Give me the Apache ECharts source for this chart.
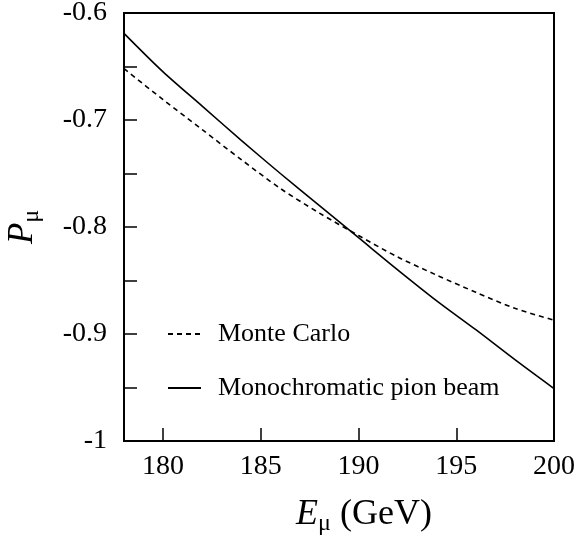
<!DOCTYPE html>
<html>
<head>
<meta charset="utf-8">
<script src="https://cdn.jsdelivr.net/npm/echarts@6/dist/echarts.min.js"></script>
<style>html,body{margin:0;padding:0;background:#fff}#c{width:576px;height:540px}</style>
</head>
<body>
<div id="c"></div>
<script>
var energies = [178, 180, 182, 184, 186, 188, 190, 192, 194, 196, 198, 200];
var monteCarlo = [-0.652, -0.681, -0.709, -0.737, -0.764, -0.787, -0.808, -0.828, -0.845, -0.861, -0.876, -0.887];
var monochromatic = [-0.619, -0.655, -0.687, -0.719, -0.750, -0.780, -0.810, -0.840, -0.869, -0.896, -0.924, -0.951];
var seriesNames = ['Monte Carlo', 'Monochromatic pion beam'];
var yTicks = [-1, -0.9, -0.8, -0.7, -0.6];

var font = '"Liberation Serif", "Times New Roman", serif';
function pairs(xs, ys) { return xs.map(function (x, i) { return [x, ys[i]]; }); }

var chart = echarts.init(document.getElementById('c'), null, {renderer: 'canvas'});
chart.setOption({
  animation: false,
  backgroundColor: '#fff',
  grid: {left: 124, right: 22, top: 13, bottom: 99, show: true, borderColor: '#000', borderWidth: 2,
         containLabel: false, outerBoundsMode: 'none'},
  legend: {
    orient: 'vertical', left: 162, top: 316, itemWidth: 33, itemHeight: 14, itemGap: 28,
    data: seriesNames,
    itemStyle: {opacity: 0},
    textStyle: {fontFamily: font, fontSize: 26, color: '#000', lineHeight: 26, padding: [0, 0, 0, 12]}
  },
  xAxis: {
    type: 'value', min: 178, max: 200, splitNumber: 5,
    name: '{e|E}{s|μ}{n|\u00a0(GeV)}', nameLocation: 'middle', nameGap: 53,
    nameTextStyle: {
      fontFamily: font, color: '#000', padding: [0, 0, 0, 50],
      rich: {
        e: {fontFamily: font, fontStyle: 'italic', fontSize: 36, color: '#000'},
        s: {fontFamily: font, fontSize: 24, color: '#000', padding: [18, 0, 0, 0]},
        n: {fontFamily: font, fontSize: 36, color: '#000'}
      }
    },
    axisLine: {show: true, lineStyle: {color: '#000', width: 2}},
    axisTick: {show: true, inside: true, length: 13, lineStyle: {color: '#000', width: 1.5}},
    axisLabel: {showMinLabel: false, fontFamily: font, fontSize: 28, color: '#000', margin: 12},
    splitLine: {show: false}
  },
  yAxis: {
    type: 'value', min: yTicks[0], max: yTicks[yTicks.length - 1], interval: 0.1,
    name: '{p|P}{s|μ}', nameLocation: 'middle', nameGap: 80, nameRotate: 90,
    nameTextStyle: {
      fontFamily: font, color: '#000',
      rich: {
        p: {fontFamily: font, fontStyle: 'italic', fontSize: 35, color: '#000'},
        s: {fontFamily: font, fontSize: 24, color: '#000', padding: [18, 0, 0, 0]}
      }
    },
    axisLine: {show: true, lineStyle: {color: '#000', width: 2}},
    axisTick: {show: true, inside: true, length: 13, lineStyle: {color: '#000', width: 1.5}},
    minorTick: {show: true, splitNumber: 2, length: 13, lineStyle: {color: '#000', width: 1.5}},
    axisLabel: {
      fontFamily: font, fontSize: 28, color: '#000', margin: 17,
      formatter: function (v) { return Math.abs(v + 1) < 1e-9 ? '-1' : v.toFixed(1); }
    },
    splitLine: {show: false}
  },
  series: [
    {
      name: seriesNames[0], type: 'line', data: pairs(energies, monteCarlo), symbol: 'none', smooth: 0.3,
      lineStyle: {color: '#000', width: 1.6, type: [5, 4]}, itemStyle: {color: '#000'}
    },
    {
      name: seriesNames[1], type: 'line', data: pairs(energies, monochromatic), symbol: 'none', smooth: 0.3,
      lineStyle: {color: '#000', width: 1.6, type: 'solid'}, itemStyle: {color: '#000'}
    }
  ]
});
</script>
</body>
</html>
